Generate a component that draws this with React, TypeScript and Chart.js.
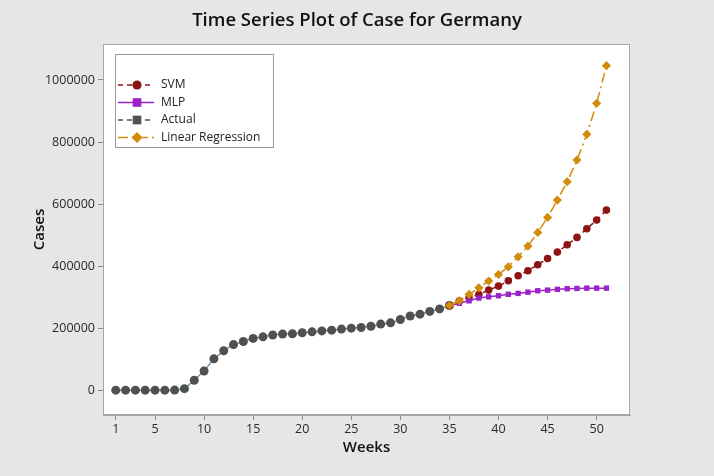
import React, { useEffect, useRef } from "react";
import { Chart, registerables } from "chart.js";

Chart.register(...registerables);

const weeksActual = [1, 2, 3, 4, 5, 6, 7, 8, 9, 10, 11, 12, 13, 14, 15, 16, 17, 18, 19, 20, 21, 22, 23, 24, 25, 26, 27, 28, 29, 30, 31, 32, 33, 34, 35];
const actualCases = [0, 0, 0, 0, 0, 0, 300, 5000, 32000, 62000, 101000, 127000, 147000, 157000, 167000, 172000, 178000, 181000, 182000, 185000, 188000, 191000, 193500, 197000, 200000, 202000, 206000, 213000, 217000, 228000, 239000, 245000, 254000, 262000, 273000];

const weeksForecast = [35, 36, 37, 38, 39, 40, 41, 42, 43, 44, 45, 46, 47, 48, 49, 50, 51];
const svmCases = [273000, 287000, 298000, 308600, 322600, 335500, 352700, 368800, 385000, 404300, 424700, 445200, 468800, 492500, 520400, 548400, 580600];
const mlpCases = [273000, 280000, 288000, 297000, 301000, 304500, 309000, 312000, 316000, 320500, 322500, 325000, 327000, 328000, 329000, 329000, 329000];
const lrCases = [273000, 288000, 308600, 330000, 351600, 373000, 397800, 430000, 464500, 508600, 557000, 613000, 672000, 742000, 824700, 925000, 1046000];

const xTicks = [1, 5, 10, 15, 20, 25, 30, 35, 40, 45, 50];
const yTicks = [0, 200000, 400000, 600000, 800000, 1000000];

const seriesNames = ["SVM", "MLP", "Actual", "Linear Regression"];
const chartTitle = "Time Series Plot of Case for Germany";

const C_SVM = "#8e1414";
const C_MLP = "#9b22c9";
const C_ACT = "#4f5050";
const C_LR = "#d38b0c";

const FONT = "'Open Sans', 'Noto Sans', sans-serif";

const toXY = (xs: number[], ys: number[]) => xs.map((x, i) => ({ x, y: ys[i] }));

function drawMarker(ctx: CanvasRenderingContext2D, style: string, x: number, y: number, r: number, color: string) {
  ctx.save();
  ctx.fillStyle = color;
  ctx.beginPath();
  if (style === "circle") {
    ctx.arc(x, y, r, 0, Math.PI * 2);
  } else if (style === "rect") {
    ctx.rect(x - r, y - r, 2 * r, 2 * r);
  } else if (style === "rectRot") {
    ctx.moveTo(x, y - r * 1.3);
    ctx.lineTo(x + r * 1.3, y);
    ctx.lineTo(x, y + r * 1.3);
    ctx.lineTo(x - r * 1.3, y);
    ctx.closePath();
  }
  ctx.fill();
  ctx.restore();
}

const plotFramePlugin = {
  id: "plotFrame",
  beforeDraw(chart: any) {
    const { ctx, chartArea } = chart;
    ctx.save();
    ctx.fillStyle = "#ffffff";
    ctx.fillRect(chartArea.left, chartArea.top, chartArea.right - chartArea.left, chartArea.bottom - chartArea.top);
    ctx.fillStyle = "#111";
    ctx.font = `600 18.5px ${FONT}`;
    ctx.textAlign = "center";
    ctx.textBaseline = "middle";
    ctx.fillText(chartTitle, 357, 21);
    ctx.restore();
  },
  afterDraw(chart: any) {
    const { ctx, chartArea } = chart;
    ctx.save();
    ctx.strokeStyle = "#a6a6a6";
    ctx.lineWidth = 1;
    ctx.strokeRect(chartArea.left + 0.5, chartArea.top + 0.5, chartArea.right - chartArea.left - 1, chartArea.bottom - chartArea.top - 1);

    // legend box
    const bx = chartArea.left + 12;
    const by = chartArea.top + 10;
    const bw = 158;
    const bh = 93;
    ctx.fillStyle = "#ffffff";
    ctx.fillRect(bx, by, bw, bh);
    ctx.strokeStyle = "#9a9a9a";
    ctx.strokeRect(bx + 0.5, by + 0.5, bw, bh);

    const items = [
      { color: C_SVM, dash: [5, 4], style: "circle", r: 4.6 },
      { color: C_MLP, dash: [], style: "rect", r: 4.3 },
      { color: C_ACT, dash: [5, 4], style: "rect", r: 4.3 },
      { color: C_LR, dash: [10, 4, 2, 4], style: "rectRot", r: 4.2 },
    ];
    const rowY = [85, 102.5, 120, 137.5];
    items.forEach((it, i) => {
      const y = rowY[i];
      ctx.save();
      ctx.strokeStyle = it.color;
      ctx.lineWidth = 1.5;
      ctx.setLineDash(it.dash);
      ctx.beginPath();
      ctx.moveTo(118, y);
      ctx.lineTo(154, y);
      ctx.stroke();
      ctx.restore();
      drawMarker(ctx, it.style, 137, y, it.r, it.color);
      ctx.save();
      ctx.fillStyle = "#222";
      ctx.font = `12px ${FONT}`;
      ctx.textBaseline = "middle";
      ctx.fillText(seriesNames[i], 161, y);
      ctx.restore();
    });
    ctx.restore();
  },
};

export default function App() {
  const canvasRef = useRef<HTMLCanvasElement | null>(null);

  useEffect(() => {
    if (!canvasRef.current) return;
    const chart = new Chart(canvasRef.current, {
      type: "line",
      data: {
        datasets: [
          {
            label: seriesNames[3],
            data: toXY(weeksForecast, lrCases),
            borderColor: C_LR,
            backgroundColor: C_LR,
            borderWidth: 1.5,
            borderDash: [10, 4, 2, 4],
            pointStyle: "rectRot",
            pointRadius: 4.6,
            pointBorderWidth: 0,
            order: 0,
          },
          {
            label: seriesNames[1],
            data: toXY(weeksForecast, mlpCases),
            borderColor: C_MLP,
            backgroundColor: C_MLP,
            borderWidth: 1.5,
            pointStyle: "rect",
            pointRadius: 3.8,
            pointBorderWidth: 0,
            order: 1,
          },
          {
            label: seriesNames[0],
            data: toXY(weeksForecast, svmCases),
            borderColor: C_SVM,
            backgroundColor: C_SVM,
            borderWidth: 1.5,
            borderDash: [5, 4],
            pointStyle: "circle",
            pointRadius: 3.8,
            pointBorderWidth: 0,
            order: 2,
          },
          {
            label: seriesNames[2],
            data: toXY(weeksActual, actualCases),
            borderColor: "#5a7fa0",
            backgroundColor: C_ACT,
            borderWidth: 1.2,
            pointStyle: "circle",
            pointRadius: 4.5,
            pointBorderWidth: 0,
            order: 3,
          },
        ],
      },
      options: {
        animation: false,
        responsive: false,
        maintainAspectRatio: false,
        layout: { padding: { left: 0, right: 84, top: 44, bottom: 0 } },
        plugins: {
          legend: { display: false },
          tooltip: { enabled: false },
          title: { display: false },
        },
        scales: {
          x: {
            type: "linear",
            min: -0.3,
            max: 53.4,
            afterBuildTicks: (s: any) => {
              s.ticks = xTicks.map((v) => ({ value: v }));
            },
            afterFit: (s: any) => {
              s.height = 61;
            },
            grid: { drawOnChartArea: false, drawTicks: true, tickLength: 5, color: "#8a8a8a" },
            border: { display: true, color: "#a6a6a6" },
            ticks: {
              color: "#2a2a2a",
              font: { family: FONT, size: 12.5 },
              padding: 2,
              maxRotation: 0,
              autoSkip: false,
              callback: (v: any) => String(v),
            },
            title: {
              display: true,
              text: "Weeks",
              color: "#111",
              font: { family: FONT, size: 15, weight: "600" },
              padding: { top: 0, bottom: 19 },
            },
          },
          y: {
            type: "linear",
            min: -80000,
            max: 1116000,
            afterBuildTicks: (s: any) => {
              s.ticks = yTicks.map((v) => ({ value: v }));
            },
            afterFit: (s: any) => {
              s.width = 103;
            },
            grid: { drawOnChartArea: false, drawTicks: true, tickLength: 5, color: "#8a8a8a" },
            border: { display: true, color: "#a6a6a6" },
            ticks: {
              color: "#2a2a2a",
              font: { family: FONT, size: 12.5 },
              padding: 3,
              autoSkip: false,
              callback: (v: any) => String(v),
            },
            title: {
              display: true,
              text: "Cases",
              color: "#111",
              font: { family: FONT, size: 15, weight: "600" },
              padding: { top: 31, bottom: 0 },
            },
          },
        },
      },
      plugins: [plotFramePlugin],
    } as any);
    return () => chart.destroy();
  }, []);

  return (
    <div style={{ position: "absolute", left: 0, top: 0, width: 714, height: 476, background: "#e6e6e6" }}>
      <canvas ref={canvasRef} width={714} height={476} style={{ display: "block", width: 714, height: 476 }} />
    </div>
  );
}
